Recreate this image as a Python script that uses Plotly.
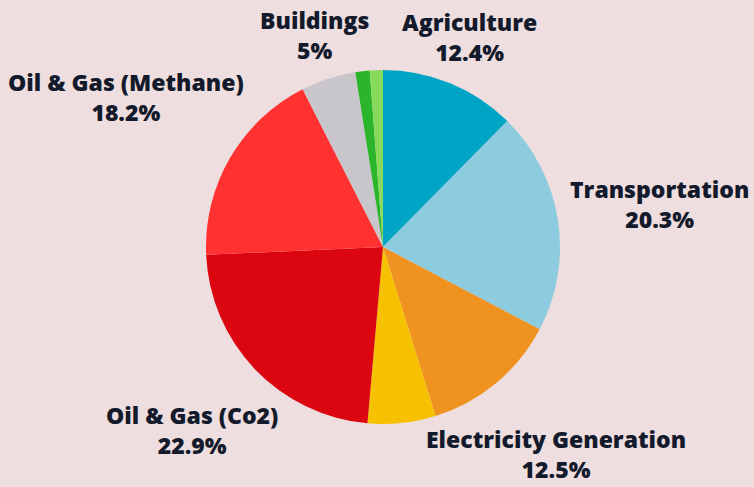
import math
import plotly.graph_objects as go

labels = ["Agriculture", "Transportation", "Electricity Generation", "Industry",
          "Oil & Gas (Co2)", "Oil & Gas (Methane)", "Buildings", "Waste", "Other"]
values = [12.4, 20.3, 12.5, 6.2, 22.9, 18.2, 5.0, 1.3, 1.2]
pct_labels = ["12.4%", "20.3%", "12.5%", "", "22.9%", "18.2%", "5%", "", ""]
colors = ["#00A5C6", "#8CCCDE", "#F0921F", "#F5C100", "#DC0611", "#FF3131",
          "#C8C6CA", "#2AB52A", "#86DB5C"]

W, H = 754, 487
cx, cy, R = 383, 247, 177  # pie centre / radius in px (layout)
# distance of each label centre from pie centre (layout only)
label_dist = [227, 280, 270, 0, 264, 297, 223, 0, 0]

fig = go.Figure(go.Pie(
    labels=labels,
    values=values,
    textinfo="none",
    sort=False,
    direction="clockwise",
    rotation=0,
    marker=dict(colors=colors, line=dict(width=0)),
    showlegend=False,
    domain=dict(x=[(cx - R) / W, (cx + R) / W], y=[(H - cy - R) / H, (H - cy + R) / H]),
))

total = sum(values)
cum = 0.0
annotations = []
for lab, val, pct, d in zip(labels, values, pct_labels, label_dist):
    mid = (cum + val / 2) / total * 2 * math.pi
    cum += val
    if not pct:
        continue
    px = cx + d * math.sin(mid)
    py = cy - d * math.cos(mid)
    annotations.append(dict(
        x=px / W, y=1 - py / H, xref="paper", yref="paper",
        text=f"{lab}<br>{pct}", showarrow=False, align="center",
        xanchor="center", yanchor="middle",
        font=dict(family="Open Sans", size=23, color="#131A2B", weight=800),
    ))

fig.update_layout(
    width=W, height=H,
    margin=dict(l=0, r=0, t=0, b=0),
    paper_bgcolor="#EFDEDF",
    plot_bgcolor="#EFDEDF",
    annotations=annotations,
)

fig.write_html("out.html", config={"displayModeBar": False},
               post_script="document.body.style.margin='0';")
